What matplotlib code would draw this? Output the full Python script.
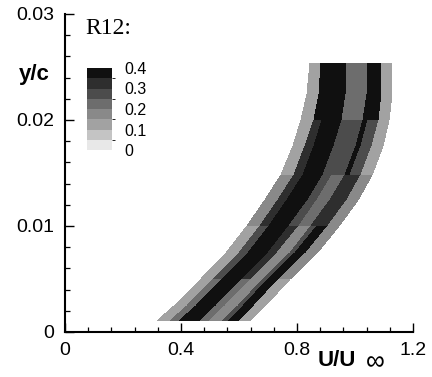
import numpy as np
import matplotlib
matplotlib.use("Agg")
import matplotlib.pyplot as plt
import matplotlib.ticker as tick
from matplotlib.colors import LinearSegmentedColormap, BoundaryNorm

# band stations (bottom -> top)
y_stations = [0.001, 0.0025, 0.005, 0.0075, 0.010, 0.0125, 0.0148, 0.0175, 0.020, 0.0225, 0.0254]
x_left = [0.317, 0.376, 0.469, 0.556, 0.628, 0.690, 0.744, 0.785, 0.815, 0.836, 0.845]
x_right = [0.638, 0.690, 0.775, 0.870, 0.945, 1.010, 1.060, 1.095, 1.118, 1.128, 1.124]
# fraction across the band where the grey patches change
s_edges = [0, 0.14, 0.24, 0.46, 0.56, 0.70, 0.76, 0.88, 1.0]
# R12 value of every patch, one row per station interval
r12 = [
    [0.12, 0.22, 0.38, 0.22, 0.15, 0.25, 0.35, 0.12],
    [0.12, 0.22, 0.38, 0.22, 0.15, 0.25, 0.35, 0.12],
    [0.12, 0.25, 0.40, 0.30, 0.15, 0.25, 0.40, 0.15],
    [0.12, 0.25, 0.40, 0.30, 0.15, 0.25, 0.40, 0.15],
    [0.15, 0.30, 0.35, 0.25, 0.20, 0.30, 0.30, 0.15],
    [0.15, 0.30, 0.35, 0.25, 0.20, 0.30, 0.30, 0.15],
    [0.12, 0.30, 0.40, 0.25, 0.25, 0.35, 0.25, 0.12],
    [0.12, 0.30, 0.40, 0.25, 0.25, 0.35, 0.25, 0.12],
    [0.12, 0.40, 0.40, 0.20, 0.20, 0.35, 0.35, 0.12],
    [0.12, 0.40, 0.40, 0.20, 0.20, 0.35, 0.35, 0.12],
]
levels = [0, 0.05, 0.1, 0.15, 0.2, 0.25, 0.3, 0.35, 0.4]
legend_ticks = [0, 0.1, 0.2, 0.3, 0.4]

yy = np.array(y_stations)
xl = np.array(x_left)
xr = np.array(x_right)
s = np.array(s_edges)
X = xl[:, None] + s[None, :] * (xr - xl)[:, None]
Y = np.repeat(yy[:, None], len(s), axis=1)

cmap = LinearSegmentedColormap.from_list(
    "greys", ["#e8e8e8", "#a8a8a8", "#7c7c7c", "#444444", "#101010"])
norm = BoundaryNorm(levels, cmap.N)

fig = plt.figure(figsize=(4.32, 3.77), dpi=100)
ax = fig.add_axes([65 / 432, 45 / 377, 348 / 432, 318 / 377])
mesh = ax.pcolormesh(X, Y, np.array(r12), cmap=cmap, norm=norm, shading="flat")

ax.set_xlim(0, 1.2)
ax.set_ylim(0, 0.03)
ax.xaxis.set_major_locator(tick.MultipleLocator(0.4))
ax.xaxis.set_minor_locator(tick.MultipleLocator(0.08))
ax.yaxis.set_major_locator(tick.MultipleLocator(0.01))
ax.yaxis.set_minor_locator(tick.MultipleLocator(0.002))
ax.xaxis.set_major_formatter(tick.FuncFormatter(lambda v, p: "0" if v == 0 else f"{v:g}"))
ax.yaxis.set_major_formatter(tick.FuncFormatter(lambda v, p: "0" if v == 0 else f"{v:g}"))
for side in ("top", "right"):
    ax.spines[side].set_visible(False)
for side in ("left", "bottom"):
    ax.spines[side].set_linewidth(1.5)
ax.tick_params(which="major", direction="in", length=6.5, width=1.0,
               labelsize=14, pad=7, labelfontfamily="Liberation Sans")
ax.tick_params(which="minor", direction="in", length=3.6, width=0.9)
ax.tick_params(axis="y", pad=8)

ax.text(0.069, 0.0281, "R12:", family="Liberation Serif", fontsize=17, va="baseline")
fig.text(34 / 432, 1 - 80 / 377, "y/c", family="Liberation Sans", fontweight="bold",
         fontsize=16, ha="center", va="baseline")
fig.text(318 / 432, 1 - 366 / 377, "U/U", family="Liberation Sans", fontweight="bold",
         fontsize=16, ha="left", va="baseline")
fig.text(366 / 432, 1 - 369 / 377, "\u221e", family="Liberation Sans",
         fontsize=19, ha="left", va="baseline")

cax = fig.add_axes([87 / 432, 1 - 150 / 377, 25 / 432, 82 / 377])
cb = fig.colorbar(mesh, cax=cax, ticks=legend_ticks)
cb.outline.set_visible(False)
cb.ax.tick_params(length=0, labelsize=11.5, pad=9)
cb.ax.set_yticklabels(["0", "0.1", "0.2", "0.3", "0.4"], family="Liberation Sans")

plt.savefig("out.png", dpi=100)
